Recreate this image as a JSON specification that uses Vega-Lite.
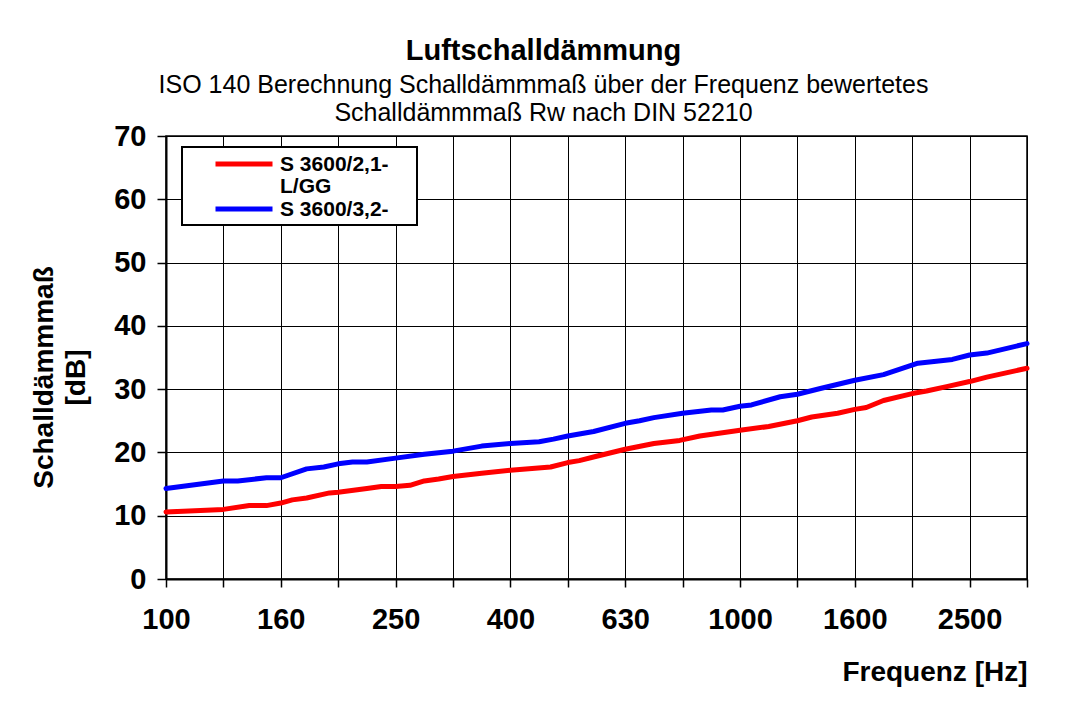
{
  "$schema": "https://vega.github.io/schema/vega-lite/v6.json",
  "autosize": "none",
  "width": 861,
  "height": 443,
  "padding": {"left": 166, "top": 136, "right": 41, "bottom": 147},
  "background": "white",
  "config": {
    "font": "Liberation Sans",
    "view": {"stroke": "black", "strokeWidth": 1.5}
  },
  "title": {
    "text": "Luftschalldämmung",
    "subtitle": ["ISO 140 Berechnung Schalldämmmaß über der Frequenz bewertetes", "Schalldämmmaß Rw nach DIN 52210"],
    "anchor": "middle",
    "dx": -53,
    "offset": -4,
    "font": "Liberation Sans",
    "fontSize": 29,
    "fontWeight": "bold",
    "color": "black",
    "subtitleFont": "Liberation Sans",
    "subtitleFontSize": 25,
    "subtitleColor": "black",
    "subtitleLineHeight": 28,
    "subtitlePadding": 7
  },
  "datasets": {
    "curves": [
      {"series": "S 3600/2,1-L/GG", "band": 0, "db": 10.6},
      {"series": "S 3600/2,1-L/GG", "band": 1, "db": 11.0},
      {"series": "S 3600/2,1-L/GG", "band": 1.45, "db": 11.6},
      {"series": "S 3600/2,1-L/GG", "band": 1.75, "db": 11.6},
      {"series": "S 3600/2,1-L/GG", "band": 2, "db": 12.0},
      {"series": "S 3600/2,1-L/GG", "band": 2.2, "db": 12.5},
      {"series": "S 3600/2,1-L/GG", "band": 2.45, "db": 12.8},
      {"series": "S 3600/2,1-L/GG", "band": 2.85, "db": 13.6},
      {"series": "S 3600/2,1-L/GG", "band": 3, "db": 13.7},
      {"series": "S 3600/2,1-L/GG", "band": 3.5, "db": 14.3},
      {"series": "S 3600/2,1-L/GG", "band": 3.75, "db": 14.6},
      {"series": "S 3600/2,1-L/GG", "band": 4, "db": 14.6},
      {"series": "S 3600/2,1-L/GG", "band": 4.25, "db": 14.8},
      {"series": "S 3600/2,1-L/GG", "band": 4.5, "db": 15.5},
      {"series": "S 3600/2,1-L/GG", "band": 4.75, "db": 15.8},
      {"series": "S 3600/2,1-L/GG", "band": 5, "db": 16.2},
      {"series": "S 3600/2,1-L/GG", "band": 5.5, "db": 16.7},
      {"series": "S 3600/2,1-L/GG", "band": 6, "db": 17.2},
      {"series": "S 3600/2,1-L/GG", "band": 6.7, "db": 17.7},
      {"series": "S 3600/2,1-L/GG", "band": 7, "db": 18.4},
      {"series": "S 3600/2,1-L/GG", "band": 7.2, "db": 18.7},
      {"series": "S 3600/2,1-L/GG", "band": 7.5, "db": 19.4},
      {"series": "S 3600/2,1-L/GG", "band": 8, "db": 20.5},
      {"series": "S 3600/2,1-L/GG", "band": 8.5, "db": 21.4},
      {"series": "S 3600/2,1-L/GG", "band": 8.95, "db": 21.9},
      {"series": "S 3600/2,1-L/GG", "band": 9.3, "db": 22.6},
      {"series": "S 3600/2,1-L/GG", "band": 10, "db": 23.5},
      {"series": "S 3600/2,1-L/GG", "band": 10.5, "db": 24.1},
      {"series": "S 3600/2,1-L/GG", "band": 11, "db": 25.0},
      {"series": "S 3600/2,1-L/GG", "band": 11.25, "db": 25.6},
      {"series": "S 3600/2,1-L/GG", "band": 11.7, "db": 26.2},
      {"series": "S 3600/2,1-L/GG", "band": 12, "db": 26.8},
      {"series": "S 3600/2,1-L/GG", "band": 12.2, "db": 27.1},
      {"series": "S 3600/2,1-L/GG", "band": 12.5, "db": 28.2},
      {"series": "S 3600/2,1-L/GG", "band": 13, "db": 29.3},
      {"series": "S 3600/2,1-L/GG", "band": 13.25, "db": 29.7},
      {"series": "S 3600/2,1-L/GG", "band": 13.6, "db": 30.4},
      {"series": "S 3600/2,1-L/GG", "band": 14, "db": 31.2},
      {"series": "S 3600/2,1-L/GG", "band": 14.3, "db": 31.9},
      {"series": "S 3600/2,1-L/GG", "band": 15, "db": 33.3},
      {"series": "S 3600/3,2-", "band": 0, "db": 14.3},
      {"series": "S 3600/3,2-", "band": 1, "db": 15.5},
      {"series": "S 3600/3,2-", "band": 1.25, "db": 15.5},
      {"series": "S 3600/3,2-", "band": 1.75, "db": 16.0},
      {"series": "S 3600/3,2-", "band": 2, "db": 16.0},
      {"series": "S 3600/3,2-", "band": 2.45, "db": 17.4},
      {"series": "S 3600/3,2-", "band": 2.75, "db": 17.7},
      {"series": "S 3600/3,2-", "band": 3, "db": 18.2},
      {"series": "S 3600/3,2-", "band": 3.25, "db": 18.5},
      {"series": "S 3600/3,2-", "band": 3.5, "db": 18.5},
      {"series": "S 3600/3,2-", "band": 4, "db": 19.1},
      {"series": "S 3600/3,2-", "band": 4.5, "db": 19.7},
      {"series": "S 3600/3,2-", "band": 5, "db": 20.2},
      {"series": "S 3600/3,2-", "band": 5.5, "db": 21.0},
      {"series": "S 3600/3,2-", "band": 6, "db": 21.4},
      {"series": "S 3600/3,2-", "band": 6.5, "db": 21.7},
      {"series": "S 3600/3,2-", "band": 6.75, "db": 22.1},
      {"series": "S 3600/3,2-", "band": 7, "db": 22.6},
      {"series": "S 3600/3,2-", "band": 7.25, "db": 23.0},
      {"series": "S 3600/3,2-", "band": 7.45, "db": 23.3},
      {"series": "S 3600/3,2-", "band": 8, "db": 24.6},
      {"series": "S 3600/3,2-", "band": 8.25, "db": 25.0},
      {"series": "S 3600/3,2-", "band": 8.5, "db": 25.5},
      {"series": "S 3600/3,2-", "band": 9, "db": 26.2},
      {"series": "S 3600/3,2-", "band": 9.5, "db": 26.7},
      {"series": "S 3600/3,2-", "band": 9.7, "db": 26.7},
      {"series": "S 3600/3,2-", "band": 10, "db": 27.3},
      {"series": "S 3600/3,2-", "band": 10.2, "db": 27.5},
      {"series": "S 3600/3,2-", "band": 10.7, "db": 28.8},
      {"series": "S 3600/3,2-", "band": 11, "db": 29.2},
      {"series": "S 3600/3,2-", "band": 11.4, "db": 30.1},
      {"series": "S 3600/3,2-", "band": 12, "db": 31.4},
      {"series": "S 3600/3,2-", "band": 12.5, "db": 32.3},
      {"series": "S 3600/3,2-", "band": 13.1, "db": 34.1},
      {"series": "S 3600/3,2-", "band": 13.7, "db": 34.7},
      {"series": "S 3600/3,2-", "band": 14, "db": 35.4},
      {"series": "S 3600/3,2-", "band": 14.3, "db": 35.7},
      {"series": "S 3600/3,2-", "band": 15, "db": 37.2}
    ]
  },
  "data": {"name": "curves"},
  "mark": {"type": "line", "strokeWidth": 5, "strokeCap": "round", "strokeJoin": "round"},
  "encoding": {
    "x": {
      "field": "band",
      "type": "quantitative",
      "scale": {"domain": [0, 15], "nice": false, "zero": false},
      "axis": {
        "values": [0, 1, 2, 3, 4, 5, 6, 7, 8, 9, 10, 11, 12, 13, 14, 15],
        "labelExpr": "datum.value % 2 == 0 ? ['100','125','160','200','250','315','400','500','630','800','1000','1250','1600','2000','2500','3150'][datum.value] : ''",
        "title": "Frequenz [Hz]",
        "titleAnchor": "end",
        "titleAlign": "right",
        "titleFontSize": 28,
        "titleFontWeight": "bold",
        "titleColor": "black",
        "titlePadding": 24,
        "labelFontSize": 29,
        "labelFontWeight": "bold",
        "labelColor": "black",
        "labelPadding": 18,
        "labelFlush": false,
        "labelOverlap": false,
        "tickSize": 8,
        "tickColor": "black",
        "tickWidth": 1.5,
        "domainColor": "black",
        "domainWidth": 2,
        "grid": true,
        "gridColor": "black",
        "gridWidth": 1,
        "gridOpacity": 1
      }
    },
    "y": {
      "field": "db",
      "type": "quantitative",
      "scale": {"domain": [0, 70], "nice": false},
      "axis": {
        "values": [0, 10, 20, 30, 40, 50, 60, 70],
        "title": ["Schalldämmmaß", "[dB]"],
        "titleFontSize": 28,
        "titleFontWeight": "bold",
        "titleColor": "black",
        "titleLineHeight": 32,
        "titlePadding": 23,
        "titleY": 241,
        "labelFontSize": 29,
        "labelFontWeight": "bold",
        "labelColor": "black",
        "labelPadding": 11,
        "labelFlush": false,
        "tickSize": 9,
        "tickColor": "black",
        "tickWidth": 1.5,
        "domainColor": "black",
        "domainWidth": 2,
        "grid": true,
        "gridColor": "black",
        "gridWidth": 1,
        "gridOpacity": 1
      }
    },
    "color": {
      "field": "series",
      "type": "nominal",
      "scale": {"domain": ["S 3600/2,1-L/GG", "S 3600/3,2-"], "range": ["#ff0000", "#0000ff"]},
      "legend": {
        "title": null,
        "orient": "none",
        "legendX": 16,
        "legendY": 11,
        "fillColor": "white",
        "strokeColor": "black",
        "padding": 5,
        "symbolType": "M-3,0H3",
        "symbolStrokeWidth": 5,
        "symbolSize": 361,
        "symbolOffset": 45,
        "labelOffset": 24,
        "labelFontSize": 21,
        "labelFontWeight": "bold",
        "labelColor": "black",
        "labelBaseline": "top",
        "labelExpr": "datum.label == 'S 3600/2,1-L/GG' ? ['S 3600/2,1-\u00a0\u00a0\u00a0\u00a0\u200b', 'L/GG'] : datum.label",
        "rowPadding": 0,
        "encode": {
          "labels": {"update": {"dy": {"value": -10}, "lineHeight": {"value": 22}}},
          "legend": {"update": {"strokeWidth": {"value": 2}}}
        }
      }
    }
  }
}
